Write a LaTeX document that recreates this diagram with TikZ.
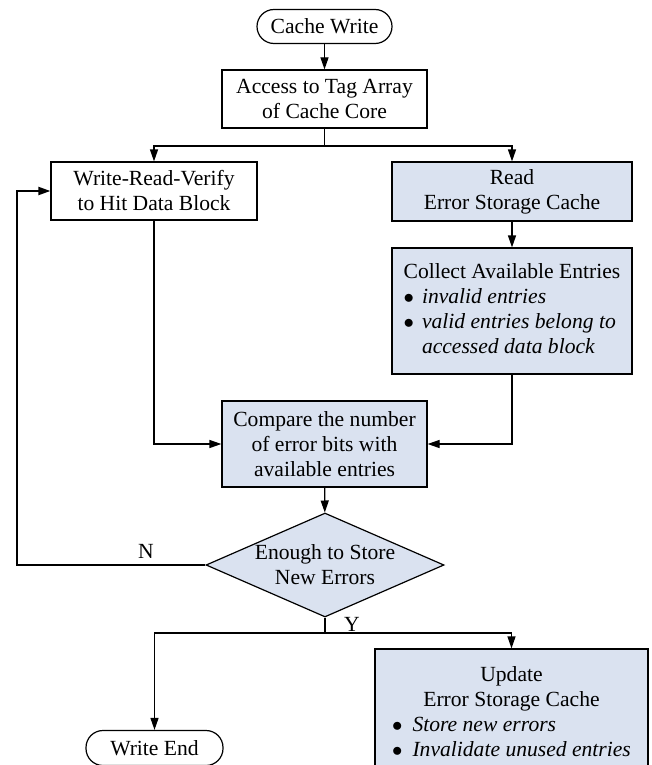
\documentclass[tikz,border=0pt]{standalone}
\usepackage{fontspec}
\setmainfont{Liberation Serif}
\usetikzlibrary{shapes.geometric,arrows.meta}
\definecolor{boxblue}{RGB}{218,226,240}
\newcommand{\blt}{$\bullet$}
\begin{document}
\begin{tikzpicture}[x=1pt,y=-1pt,
  font=\fontsize{21.6}{25}\selectfont,
  every node/.style={inner sep=0pt},
  plainbox/.style={draw=black, line width=1.2pt, rectangle, align=center, fill=white},
  bluebox/.style={plainbox, fill=boxblue},
  term/.style={draw=black, line width=1.2pt, rectangle, rounded corners=17pt, align=center, fill=white},
  decision/.style={diamond, draw=black, line width=1.2pt, fill=boxblue, minimum width=238pt, minimum height=104pt, inner sep=0pt},
  link/.style={line width=1.2pt, -{Triangle[length=12pt,width=8pt]}},
  wire/.style={line width=1.2pt},
  fback/.style={line width=2pt, -{Triangle[length=12pt,width=8pt]}}
]
\useasboundingbox (0,0) rectangle (652,765);
\clip (0,0) rectangle (652,765);

% nodes
\node[term, minimum width=135pt, minimum height=34pt] (cw) at (324.5,26.5) {Cache Write};
\node[plainbox, minimum width=205pt, minimum height=58pt] (acc) at (324.5,99) {Access to Tag Array\\of Cache Core};
\node[plainbox, minimum width=206pt, minimum height=58pt] (wrv) at (154,191) {Write-Read-Verify\\to Hit Data Block};
\node[bluebox, minimum width=240pt, minimum height=59pt] (read) at (512,191.5) {Read\\Error Storage Cache};
\node[bluebox, minimum width=240pt, minimum height=126pt] (col) at (512,311) {%
  \begin{tabular}{@{}l@{\hspace{8pt}}l@{}}
  \multicolumn{2}{@{}c@{}}{Collect Available Entries}\\
  \blt & \textit{invalid entries}\\
  \blt & \textit{valid entries belong to}\\
   & \textit{accessed data block}
  \end{tabular}};
\node[bluebox, minimum width=205pt, minimum height=86pt] (cmp) at (324.5,444) {Compare the number\\of error bits with\\available entries};
\node[decision, label={[align=center]center:Enough to Store\\New Errors}] (dia) at (325,565) {};
\node[bluebox, minimum width=273pt, minimum height=129pt] (upd) at (511.5,713.5) {%
  \begin{tabular}{@{}l@{\hspace{10pt}}l@{}}
  \multicolumn{2}{@{}c@{}}{Update}\\
  \multicolumn{2}{@{}c@{}}{Error Storage Cache}\\
  \blt & \textit{Store new errors}\\
  \blt & \textit{Invalidate unused entries}
  \end{tabular}};
\node[term, minimum width=137pt, minimum height=35pt] (we) at (154.5,748) {Write End};

% connectors
\draw[link] (cw) -- (acc);
\coordinate (split) at (324.5,146);
\draw[wire] (acc.south) -- (split);
\draw[link] (split) -| (wrv.north);
\draw[link] (split) -| (read.north);
\draw[link] (read) -- (col);
\draw[link] (wrv.south) |- (cmp.west);
\draw[link] (col.south) |- (cmp.east);
\draw[link] (cmp) -- (dia);
\coordinate (fb) at (17,565);
\draw[fback] (dia.west) -- (fb) |- (wrv.west);
\node (nlab) at (146,551) {N};
\coordinate (yj) at (325,633);
\draw[wire] (dia.south) -- (yj);
\draw[link] (yj) -| (we.north);
\draw[link] (yj) -| (upd.north);
\node (ylab) at (352,624) {Y};
\end{tikzpicture}
\end{document}
